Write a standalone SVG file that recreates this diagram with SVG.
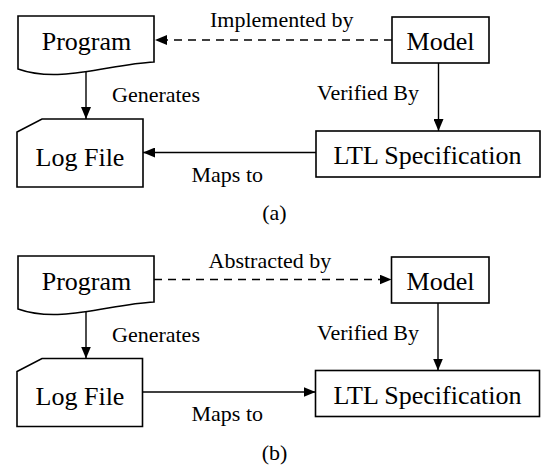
<svg xmlns="http://www.w3.org/2000/svg" width="542" height="466" viewBox="0 0 542 466">
  <defs>
    <marker id="arrow" markerUnits="userSpaceOnUse" markerWidth="12" markerHeight="10" refX="12" refY="5" orient="auto">
      <path d="M0,0 L12,5 L0,10 z" fill="#000"/>
    </marker>
    <style>
      .box { fill: #fff; stroke: #000; stroke-width: 1.6; }
      .edge { fill: none; stroke: #000; stroke-width: 1.4; marker-end: url(#arrow); }
      .dash { stroke-dasharray: 8 6; }
      .node { font-family: "Liberation Serif", "Times New Roman", serif; font-size: 26px; text-anchor: middle; fill: #000; }
      .label { font-family: "Liberation Serif", "Times New Roman", serif; font-size: 22px; fill: #000; }
      .cap { text-anchor: middle; }
    </style>
  </defs>
  <rect width="542" height="466" fill="#fff"/>

  <!-- (a) -->
  <g id="a-program">
    <path class="box" d="M18,16 H154 V62 C110,64 60,84 18,69 Z"/>
    <text class="node" x="86.5" y="50">Program</text>
  </g>
  <g id="a-model">
    <rect class="box" x="392" y="17" width="97" height="46"/>
    <text class="node" x="440.5" y="50">Model</text>
  </g>
  <g id="a-logfile">
    <path class="box" d="M42,119 H143 V187 H17 V132 Z"/>
    <text class="node" x="80" y="165.5">Log File</text>
  </g>
  <g id="a-ltl">
    <rect class="box" x="316" y="131" width="224" height="46"/>
    <text class="node" x="427.5" y="164">LTL Specification</text>
  </g>
  <g id="a-connectors">
    <line class="edge dash" x1="392" y1="40" x2="155" y2="40"/>
    <line class="edge" x1="86" y1="72" x2="86" y2="119"/>
    <line class="edge" x1="438.5" y1="63" x2="438.5" y2="131"/>
    <line class="edge" x1="316" y1="152.5" x2="143" y2="152.5"/>
    <text class="label" x="210" y="27">Implemented by</text>
    <text class="label" x="112" y="101.5">Generates</text>
    <text class="label" x="317" y="100">Verified By</text>
    <text class="label" x="191.5" y="181.5">Maps to</text>
  </g>
  <text class="label cap" x="274.5" y="220">(a)</text>

  <!-- (b) -->
  <g id="b-program">
    <path class="box" d="M18,256 H154 V302 C110,304 60,324 18,309 Z"/>
    <text class="node" x="86.5" y="290">Program</text>
  </g>
  <g id="b-model">
    <rect class="box" x="391.5" y="257" width="97.5" height="46"/>
    <text class="node" x="440.5" y="290">Model</text>
  </g>
  <g id="b-logfile">
    <path class="box" d="M42,358.5 H142.5 V426.5 H17 V371.5 Z"/>
    <text class="node" x="80" y="405">Log File</text>
  </g>
  <g id="b-ltl">
    <rect class="box" x="315.5" y="370.5" width="224" height="46"/>
    <text class="node" x="427.5" y="403.5">LTL Specification</text>
  </g>
  <g id="b-connectors">
    <line class="edge dash" x1="154" y1="279.5" x2="391.5" y2="279.5"/>
    <line class="edge" x1="86" y1="312" x2="86" y2="358.5"/>
    <line class="edge" x1="438" y1="303" x2="438" y2="370.5"/>
    <line class="edge" x1="142.5" y1="392" x2="315.5" y2="392"/>
    <text class="label" x="208.5" y="268">Abstracted by</text>
    <text class="label" x="112" y="341.5">Generates</text>
    <text class="label" x="317" y="340">Verified By</text>
    <text class="label" x="191.5" y="421">Maps to</text>
  </g>
  <text class="label cap" x="274.5" y="460">(b)</text>
</svg>
